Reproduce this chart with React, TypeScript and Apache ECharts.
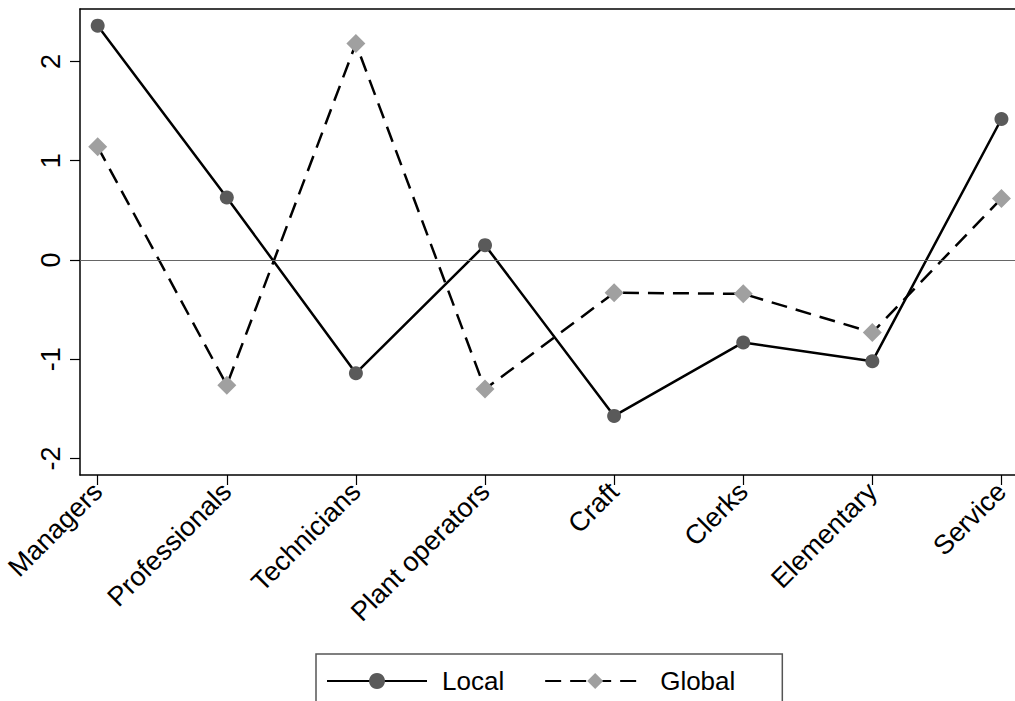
import React, { useEffect, useRef } from "react";
import * as echarts from "echarts";

const categories = [
  "Managers",
  "Professionals",
  "Technicians",
  "Plant operators",
  "Craft",
  "Clerks",
  "Elementary",
  "Service",
];
const localValues = [2.36, 0.63, -1.14, 0.15, -1.57, -0.83, -1.02, 1.42];
const globalValues = [1.14, -1.26, 2.18, -1.3, -0.33, -0.34, -0.73, 0.62];
const yTicks = [-2, -1, 0, 1, 2];
const xTicks = categories.map((_, i) => i);

const FONT = "Liberation Sans, Arial, sans-serif";

export default function App() {
  const ref = useRef<HTMLDivElement>(null);
  useEffect(() => {
    if (!ref.current) return;
    const chart = echarts.init(ref.current, undefined, { renderer: "svg" });
    const xMin = -0.137;
    const xMax = 7.105;
    chart.setOption({
      animation: false,
      backgroundColor: "#ffffff",
      textStyle: { fontFamily: FONT, color: "#000" },
      grid: { left: 80, right: 0, top: 9, bottom: 226, containLabel: false },
      legend: {
        left: 316,
        top: 654,
        orient: "horizontal",
        padding: [14, 47, 20, 10],
        borderColor: "#555",
        borderWidth: 1.5,
        itemWidth: 100,
        itemHeight: 20,
        itemGap: 40,
        textStyle: { fontSize: 26, color: "#000", fontFamily: FONT, padding: [0, 0, 0, 10] },
        data: ["Local", "Global"],
      },
      xAxis: [
        {
          type: "value",
          min: xMin,
          max: xMax,
          position: "bottom",
          splitLine: { show: false },
          axisLine: { show: true, onZero: false, lineStyle: { color: "#000", width: 1.5 } },
          axisTick: {
            show: true,
            length: 10,
            customValues: xTicks,
            lineStyle: { color: "#000", width: 1.2 },
          },
          axisLabel: {
            show: true,
            customValues: xTicks,
            rotate: 45,
            margin: 12,
            fontSize: 27,
            color: "#000",
            fontFamily: FONT,
            formatter: (v: number) => categories[Math.round(v)] ?? "",
          },
        },
        {
          type: "value",
          min: xMin,
          max: xMax,
          position: "top",
          splitLine: { show: false },
          axisLine: { show: true, onZero: false, lineStyle: { color: "#000", width: 1.5 } },
          axisTick: { show: false },
          axisLabel: { show: false },
        },
      ],
      yAxis: {
        type: "value",
        min: -2.165,
        max: 2.528,
        splitLine: { show: false },
        axisLine: { show: true, onZero: false, lineStyle: { color: "#000", width: 1.5 } },
        axisTick: {
          show: true,
          length: 10,
          customValues: yTicks,
          lineStyle: { color: "#000", width: 1.2 },
        },
        axisLabel: {
          show: true,
          customValues: yTicks,
          rotate: 90,
          margin: 16,
          fontSize: 27,
          color: "#000",
          fontFamily: FONT,
        },
      },
      series: [
        {
          name: "Local",
          type: "line",
          xAxisIndex: 0,
          data: localValues.map((v, i) => [i, v]),
          symbol: "circle",
          symbolSize: 14,
          itemStyle: { color: "#5a5a5a" },
          lineStyle: { color: "#000", width: 2.5, type: "solid" },
          z: 3,
          markLine: {
            silent: true,
            symbol: "none",
            label: { show: false },
            lineStyle: { color: "#666", width: 1.2, type: "solid" },
            data: [{ yAxis: 0 }],
          },
        },
        {
          name: "Global",
          type: "line",
          xAxisIndex: 0,
          data: globalValues.map((v, i) => [i, v]),
          symbol: "diamond",
          symbolSize: 19,
          itemStyle: { color: "#a0a0a0" },
          lineStyle: { color: "#000", width: 2.5, type: [16, 9] },
          z: 3,
        },
      ],
    });
    return () => chart.dispose();
  }, []);
  return (
    <div
      ref={ref}
      style={{ position: "fixed", left: 0, top: 0, width: 1015, height: 701, background: "#fff" }}
    />
  );
}
